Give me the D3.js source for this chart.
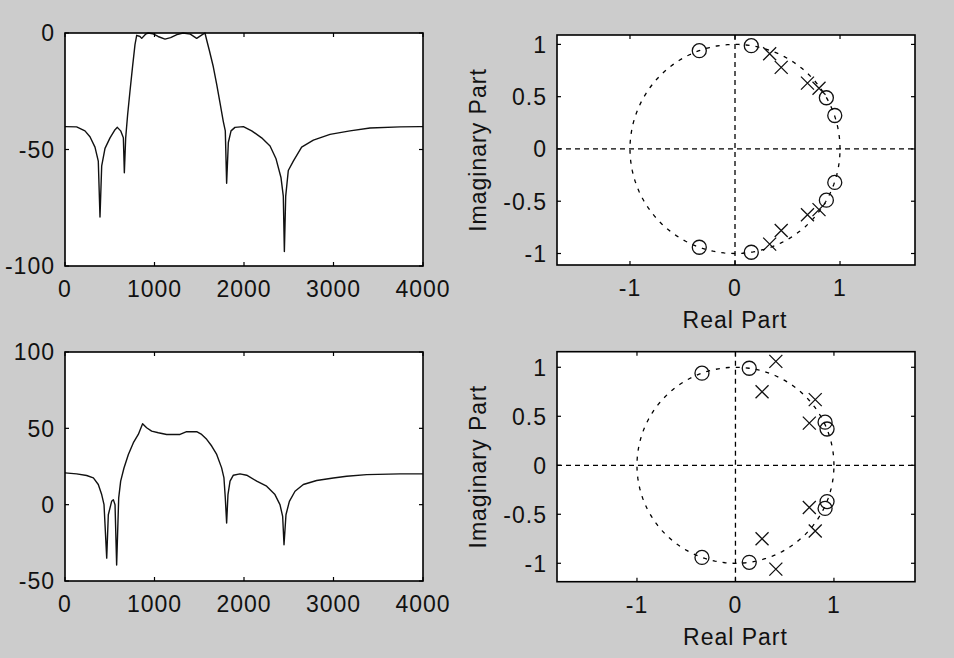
<!DOCTYPE html>
<html><head><meta charset="utf-8">
<script src="https://cdn.jsdelivr.net/npm/d3@7"></script>
<style>
body{margin:0;background:#cccccc}
svg{display:block}
text{font-family:"Liberation Sans",Arial,sans-serif;font-size:23px;fill:#111;letter-spacing:1px}
</style>
</head><body>
<svg id="c" width="954" height="658"></svg>
<script>
// ---- Data: top-left magnitude (dB) ----
const magFreq=[0,130,223,279,335,372,391,410,447,503,559,585,622,652,663,678,700,726,756,782,801,838,857,900,930,980,1040,1117,1180,1250,1318,1400,1471,1530,1564,1583,1613,1657,1695,1732,1769,1791,1806,1825,1855,1899,1993,2086,2197,2291,2358,2413,2439,2451,2466,2495,2551,2644,2775,2961,3184,3408,3743,3966,4000];
const magDb=[-40.2,-40.3,-42,-44.5,-49,-55,-79,-57,-49.5,-45,-41.5,-40.5,-42,-45,-60,-45,-35,-25,-14,-5,-1,-1.5,-2.3,-0.5,0,-0.3,-1.5,-2.6,-2,-0.7,0,-0.5,-2.3,-0.8,0,-3,-7.5,-14.5,-22,-30,-38,-42,-64.5,-47,-42,-40.5,-40.2,-42,-45,-48.5,-54,-62,-70,-93.8,-70,-59,-55,-49,-46,-43.5,-42,-40.8,-40.3,-40.2,-40.2];
// ---- Data: bottom-left second response ----
const resFreq=[0,130,242,317,372,410,436,466,484,521,540,559,577,600,622,659,708,764,819,867,912,968,1043,1136,1285,1359,1471,1527,1583,1639,1695,1750,1776,1791,1806,1821,1844,1881,1955,2030,2142,2253,2346,2402,2432,2447,2469,2507,2570,2663,2812,2998,3147,3371,3743,3966,4000];
const resVal=[20.8,20.2,19.1,17.5,13.2,6.6,0,-35,-6.6,2.2,3.3,0,-39.5,4.4,15.4,24,32.9,40.6,46,53,50.4,48.2,47.1,46,46,47.8,47.8,46,42.8,38.4,32.9,24.1,17.5,4.4,-12,6.6,15.4,19.3,20.2,19.3,15.4,12.1,6.6,0,-7.7,-26.3,-6.6,2.2,8.8,13.2,15.8,17.5,18.6,19.7,20.2,20.2,20.2];
// ---- Data: top-right pole/zero ----
const zeros1Re=[-0.34,-0.34,0.155,0.155,0.87,0.87,0.95,0.95];
const zeros1Im=[0.94,-0.94,0.988,-0.988,0.49,-0.49,0.32,-0.32];
const poles1Re=[0.33,0.33,0.44,0.44,0.69,0.69,0.80,0.80];
const poles1Im=[0.91,-0.91,0.78,-0.78,0.63,-0.63,0.58,-0.58];
// ---- Data: bottom-right pole/zero ----
const zeros2Re=[-0.34,-0.34,0.14,0.14,0.91,0.91,0.93,0.93];
const zeros2Im=[0.94,-0.94,0.99,-0.99,0.44,-0.44,0.37,-0.37];
const poles2Re=[0.41,0.41,0.27,0.27,0.81,0.81,0.75,0.75];
const poles2Im=[1.06,-1.06,0.75,-0.75,0.67,-0.67,0.43,-0.43];
// ---- Tick labels ----
const freqTicks=[0,1000,2000,3000,4000];
const magTicks=[-100,-50,0];
const resTicks=[-50,0,50,100];
const reTicks=[-1,0,1];
const imTicks=[-1,-0.5,0,0.5,1];

const svg=d3.select("#c");
svg.append("rect").attr("width",954).attr("height",658).attr("fill","#cccccc");

function frame(x,y,xt,yt){
  const g=svg.append("g");
  const [x0,x1]=x.range(),[y0,y1]=y.range();
  g.append("rect").attr("x",x0).attr("y",y1).attr("width",x1-x0).attr("height",y0-y1)
   .attr("fill","#fff");
  return g;
}
function decorate(g,x,y,xt,yt){
  const [x0,x1]=x.range(),[y0,y1]=y.range();
  const tl=4;
  const tg=g.append("g").attr("stroke","#000").attr("stroke-width",1.2);
  xt.forEach(v=>{const px=x(v);
    tg.append("line").attr("x1",px).attr("x2",px).attr("y1",y0).attr("y2",y0-tl);
    tg.append("line").attr("x1",px).attr("x2",px).attr("y1",y1).attr("y2",y1+tl);
    g.append("text").attr("x",px).attr("y",y0+23).attr("dy","0.36em").attr("text-anchor","middle").text(String(v));
  });
  yt.forEach(v=>{const py=y(v);
    tg.append("line").attr("x1",x0).attr("x2",x0+tl).attr("y1",py).attr("y2",py);
    tg.append("line").attr("x1",x1).attr("x2",x1-tl).attr("y1",py).attr("y2",py);
    g.append("text").attr("x",x0-10).attr("y",py).attr("dy","0.36em").attr("text-anchor","end").text(String(v));
  });
  g.append("rect").attr("x",x0).attr("y",y1).attr("width",x1-x0).attr("height",y0-y1)
   .attr("fill","none").attr("stroke","#000").attr("stroke-width",1.6);
}

function linePanel(fx,fy,ydom,xr,yr,yt){
  const x=d3.scaleLinear().domain([0,4000]).range(xr);
  const y=d3.scaleLinear().domain(ydom).range(yr);
  const g=frame(x,y);
  const data=fx.map((f,i)=>[f,fy[i]]);
  g.append("path").datum(data).attr("fill","none").attr("stroke","#111").attr("stroke-width",1.4)
   .attr("stroke-linejoin","round")
   .attr("d",d3.line().x(d=>x(d[0])).y(d=>y(d[1])));
  decorate(g,x,y,freqTicks,yt);
}

function pzPanel(zr,zi,pr,pi,xdom,ydom,xr,yr){
  const x=d3.scaleLinear().domain(xdom).range(xr);
  const y=d3.scaleLinear().domain(ydom).range(yr);
  const g=frame(x,y);
  const ds=g.append("g").attr("fill","none").attr("stroke","#000").attr("stroke-width",1.3);
  ds.append("line").attr("x1",xr[0]).attr("x2",xr[1]).attr("y1",y(0)).attr("y2",y(0)).attr("stroke-dasharray","5,4");
  ds.append("line").attr("x1",x(0)).attr("x2",x(0)).attr("y1",yr[0]).attr("y2",yr[1]).attr("stroke-dasharray","5,4");
  const circ=d3.range(0,361,2).map(a=>[Math.cos(a*Math.PI/180),Math.sin(a*Math.PI/180)]);
  ds.append("path").datum(circ).attr("stroke-dasharray","4,6")
    .attr("d",d3.line().x(d=>x(d[0])).y(d=>y(d[1])));
  const m=g.append("g").attr("fill","none").attr("stroke","#111").attr("stroke-width",1.3);
  zr.forEach((r,i)=>m.append("circle").attr("cx",x(r)).attr("cy",y(zi[i])).attr("r",7));
  pr.forEach((r,i)=>{const cx=x(r),cy=y(pi[i]),s=6.5;
    m.append("path").attr("d",`M${cx-s},${cy-s}L${cx+s},${cy+s}M${cx-s},${cy+s}L${cx+s},${cy-s}`);});
  decorate(g,x,y,reTicks,imTicks);
  const cx=(xr[0]+xr[1])/2;
  g.append("text").attr("x",x(0)).attr("y",yr[0]+55).attr("dy","0.36em").attr("text-anchor","middle").text("Real Part");
  g.append("text").attr("transform",`translate(478,${(yr[0]+yr[1])/2}) rotate(-90)`).attr("dy","0.36em")
   .attr("text-anchor","middle").text("Imaginary Part");
}

linePanel(magFreq,magDb,[-100,0],[65,423],[266,33],magTicks);
linePanel(resFreq,resVal,[-50,100],[65,423],[581,352],resTicks);
pzPanel(zeros1Re,zeros1Im,poles1Re,poles1Im,[-1.695,1.714],[-1.11,1.09],[557,915],[265,35]);
pzPanel(zeros2Re,zeros2Im,poles2Re,poles2Im,[-1.812,1.823],[-1.188,1.159],[557,915],[581.7,351.7]);
</script>
</body></html>
